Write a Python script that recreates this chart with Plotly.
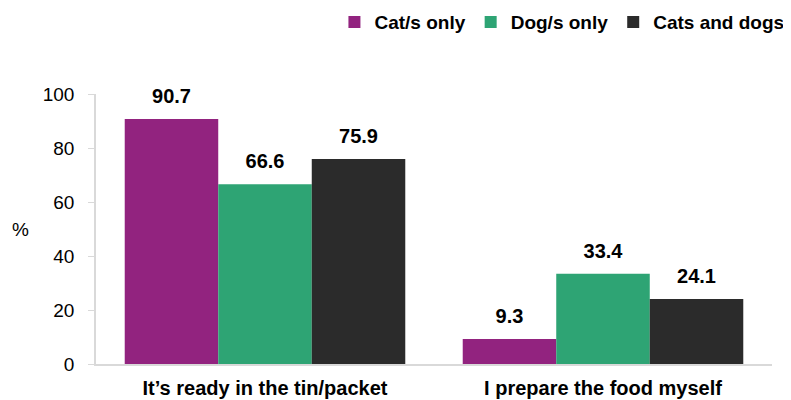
import plotly.graph_objects as go

categories = ["It’s ready in the tin/packet", "I prepare the food myself"]
series_names = ["Cat/s only", "Dog/s only", "Cats and dogs"]
cat_only = [90.7, 9.3]
dog_only = [66.6, 33.4]
cats_and_dogs = [75.9, 24.1]
colors = ["#92237F", "#2EA474", "#2B2B2B"]
y_ticks = [0, 20, 40, 60, 80, 100]

FONT = "Liberation Sans, Arial, sans-serif"
fig = go.Figure()
values = [cat_only, dog_only, cats_and_dogs]
for i, (name, vals, col) in enumerate(zip(series_names, values, colors)):
    fig.add_trace(go.Bar(
        x=categories, y=vals, name=name, marker_color=col,
        offsetgroup=str(i), marker_line_width=0,
    ))
for i, (name, vals) in enumerate(zip(series_names, values)):
    fig.add_trace(go.Scatter(
        x=categories, y=vals, mode="markers+text", text=[f"{v:.1f}" for v in vals],
        textposition="top center", offsetgroup=str(i), showlegend=False,
        marker=dict(size=16, opacity=0),
        textfont=dict(family=FONT, size=20, color="#000000", weight="bold"),
        hoverinfo="skip", cliponaxis=False,
    ))

fig.update_layout(
    width=783, height=392,
    margin=dict(l=88, r=19, t=86, b=36, autoexpand=False),
    paper_bgcolor="white", plot_bgcolor="white",
    barmode="group", bargap=0.17, bargroupgap=0,
    scattermode="group", scattergap=0.17,
    font=dict(family=FONT, size=19, color="#000000"),
    legend=dict(orientation="h", xref="container", yref="container",
                x=0.998, xanchor="right", y=0.964, yanchor="middle",
                font=dict(family=FONT, size=19, color="#000000", weight="bold"),
                itemwidth=30, tracegroupgap=0),
    showlegend=True,
)
fig.add_annotation(text="%", xref="paper", yref="paper", x=-0.112, y=0.5,
                   showarrow=False, font=dict(family=FONT, size=19, color="#000000"),
                   xanchor="center", yanchor="middle")
fig.update_xaxes(showline=True, linecolor="#D9D9D9", linewidth=1.5, ticks="",
                 ticklabelstandoff=5,
                 tickfont=dict(family=FONT, size=20, color="#000000", weight="bold"))
fig.update_yaxes(range=[0, 100], tickvals=y_ticks, showgrid=False, zeroline=False,
                 showline=True, linecolor="#D9D9D9", linewidth=1.5,
                 ticks="outside", ticklen=6, tickcolor="#D9D9D9",
                 ticklabelstandoff=10,
                 tickfont=dict(family=FONT, size=19, color="#000000"))
fig.write_html("out.html")
